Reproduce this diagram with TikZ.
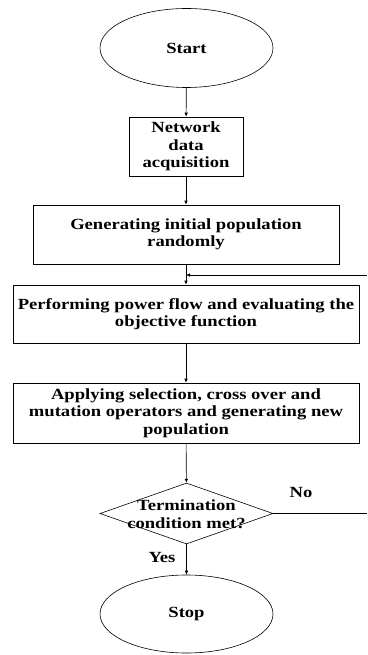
\documentclass[tikz,border=0pt]{standalone}
\usepackage{fontspec}
\setmainfont{Liberation Serif}[FakeStretch=1.2]
\usetikzlibrary{shapes.geometric,arrows.meta}
\begin{document}
\begin{tikzpicture}[x=1pt,y=-1pt,
  line width=0.6pt,
  every node/.style={font=\bfseries\fontsize{15.5}{17.5}\selectfont, align=center, inner sep=0pt},
  term/.style={draw, ellipse, minimum width=173pt, minimum height=79pt},
  proc/.style={draw, rectangle},
  cond/.style={draw, diamond, minimum width=173pt, minimum height=61pt},
  arr/.style={-{Latex[length=4pt,width=3.5pt]}}]
\useasboundingbox (0,0) rectangle (367,655);
\node[term] (start) at (186.5,48) {Start};
\node[proc, minimum width=114pt, minimum height=59pt] (net) at (186,146.5) {Network\\data\\acquisition};
\node[proc, minimum width=306pt, minimum height=59pt] (gen) at (186,234.5) {Generating initial population\\randomly};
\node[proc, minimum width=346pt, minimum height=58pt] (perf) at (186,314) {Performing power flow and evaluating the\\objective function};
\node[proc, minimum width=346pt, minimum height=60pt] (appl) at (186,413) {Applying selection, cross over and\\mutation operators and generating new\\population};
\node[cond] (dec) at (186.5,513.5) {};
\node (dectext) at (186.5,514) {Termination\\condition met?};
\node[term, minimum height=78pt] (stop) at (186.5,614) {Stop};
\node (no) at (301,492) {No};
\node (yes) at (162,557) {Yes};
\coordinate (fb) at (367,275);
\coordinate (noR) at (367,513.5);
\draw[arr] (start) -- (net);
\draw[arr] (net) -- (gen);
\draw[arr] (gen) -- (perf);
\draw[arr] (fb) -- (fb -| gen.south);
\draw[arr] (perf) -- (appl);
\draw[arr] (appl) -- (dec);
\draw[arr] (dec) -- (stop);
\draw (dec.east) -- (noR);
\end{tikzpicture}
\end{document}
